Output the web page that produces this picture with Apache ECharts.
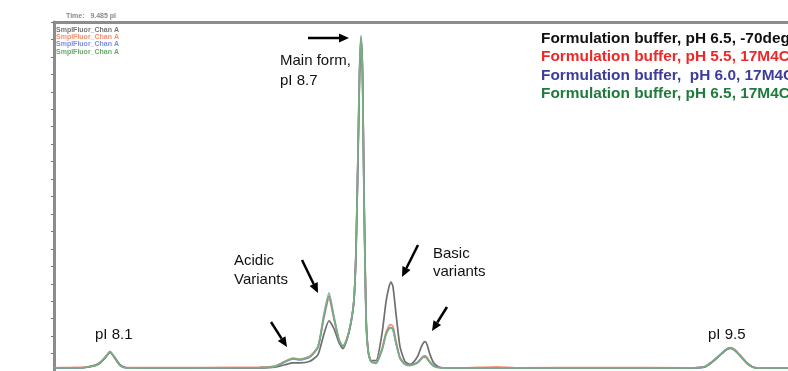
<!DOCTYPE html>
<html>
<head>
<meta charset="utf-8">
<script src="https://cdn.jsdelivr.net/npm/echarts@6/dist/echarts.min.js"></script>
<style>
html,body{margin:0;padding:0;background:#fff;}
#chart{width:788px;height:371px;}
</style>
</head>
<body>
<div id="chart"></div>
<script>
// x: separation time (arbitrary units)
const time = [0,1.6,3.1,4.1,4.6,5.1,5.6,6.1,6.6,7.1,8.6,14.6,20.6,22.1,23.1,23.9,24.6,25.6,26.4,27.0,27.5,28.0,28.5,28.9,29.3,29.7,30.0,30.2,30.4,30.55,30.7,30.85,31.0,31.2,31.4,31.7,32.2,32.8,33.2,33.5,33.7,33.9,34.2,34.6,35.1,35.6,36.0,36.4,36.7,36.9,37.1,37.3,37.6,38.0,38.6,40.6,44.3,46.6,54.6,63.6,65.1,65.8,66.6,67.2,67.6,68.0,68.6,69.4,70.1,71.6,73.4];

const sigBlack  = [0.9,0.9,1.0,1.5,2.3,3.7,5.3,3.8,1.8,1.0,0.9,0.9,0.9,1.1,1.8,2.3,2.3,2.8,4.7,10.7,14.4,12.1,8.1,6.4,9.0,13.8,20.3,33.8,60.5,83.5,94.7,86.4,51.8,16.8,6.3,3.0,3.0,10.7,19.8,24.1,25.5,24.1,16.4,7.0,2.7,1.9,2.7,4.4,6.7,7.9,8.4,7.6,4.7,2.2,1.0,0.9,0.9,0.9,0.9,0.9,1.2,2.5,4.5,6.0,6.5,6.1,4.4,1.9,0.9,0.9,0.9];
const sigOrange = [0.9,1.0,1.1,1.7,2.5,3.9,5.5,3.5,1.6,1.0,1.0,1.0,1.1,1.4,2.8,3.7,3.4,4.3,6.9,15.3,20.7,14.9,8.9,7.1,9.3,14.0,20.6,34.2,61.8,84.6,95.3,86.0,51.0,16.2,6.2,2.8,2.3,6.4,11.0,13.0,13.3,12.8,8.6,3.9,2.0,1.7,2.0,2.6,3.6,4.2,4.4,3.9,2.6,1.4,1.0,0.9,1.2,0.9,1.0,0.9,1.3,2.6,4.6,6.1,6.7,6.3,4.6,2.1,1.0,0.9,0.9];
const sigBlue   = [0.9,0.9,1.0,1.6,2.3,3.8,5.4,3.7,1.7,1.0,0.9,0.9,1.0,1.3,2.6,3.5,3.2,4.0,6.8,15.8,21.5,15.2,8.9,7.0,9.2,14.0,20.5,34.5,62.5,85.3,95.6,85.4,50.2,15.6,6.0,2.7,2.2,6.1,10.6,12.2,12.4,12.0,8.1,3.7,1.9,1.6,1.9,2.5,3.4,4.0,4.0,3.6,2.5,1.4,1.0,0.9,0.9,0.9,0.9,0.9,1.2,2.6,4.6,6.1,6.6,6.2,4.5,2.0,1.0,0.9,0.9];
const sigGreen  = [0.9,0.9,1.0,1.6,2.4,3.9,5.6,3.6,1.6,0.9,0.9,0.9,1.0,1.3,2.7,3.6,3.3,4.2,7.0,16.4,22.4,15.5,9.0,7.0,9.3,14.1,20.7,34.9,63.4,86.2,96.1,84.7,49.1,15.0,5.9,2.7,2.2,5.9,10.4,12.1,12.4,11.8,7.9,3.6,1.9,1.6,1.9,2.4,3.3,3.9,4.2,3.6,2.4,1.3,0.9,0.9,0.9,0.9,0.9,0.9,1.3,2.7,4.7,6.2,6.6,6.2,4.4,1.9,0.9,0.9,0.9];

const legendRight = [
  'Formulation buffer, pH 6.5, -70degC',
  'Formulation buffer, pH 5.5, 17M4C',
  'Formulation buffer,  pH 6.0, 17M4C',
  'Formulation buffer, pH 6.5, 17M4C'
];
const legendSmall = ['SmplFluor_Chan A','SmplFluor_Chan A','SmplFluor_Chan A','SmplFluor_Chan A'];

const lineColors = ['#5e5e5e','#f08a68','#6878c4','#78b47c'];
const rightColors = ['#111111','#ee2828','#3c3c9c','#1f7a3c'];
const smallColors = ['#444444','#f06a40','#5068d0','#3a8a3a'];
const signals = [sigBlack, sigOrange, sigBlue, sigGreen];

const chart = echarts.init(document.getElementById('chart'), null, {renderer:'canvas'});

function arrow(x1,y1,x2,y2){
  const a = Math.atan2(y2-y1,x2-x1);
  const L = 10, W = 4.5;
  const bx = x2 - L*Math.cos(a), by = y2 - L*Math.sin(a);
  const px = -Math.sin(a)*W, py = Math.cos(a)*W;
  return [
    {type:'line', shape:{x1:x1,y1:y1,x2:bx,y2:by}, style:{stroke:'#000',lineWidth:2.5}, z:10},
    {type:'polygon', shape:{points:[[x2,y2],[bx+px,by+py],[bx-px,by-py]]}, style:{fill:'#000'}, z:10}
  ];
}

const ann = (text,x,y,extra) => Object.assign({type:'text', x:x, y:y, z:10,
  style:{text:text, fontFamily:'Liberation Sans, Arial, sans-serif', fontSize:15, fill:'#111', textVerticalAlign:'middle'}}, extra||{});

const graphics = [];
legendRight.forEach((t,i)=>{
  graphics.push({type:'text', x:541, y:39+18.2*i, z:10,
    style:{text:t, fontFamily:'Liberation Sans, Arial, sans-serif', fontWeight:'bold', fontSize:15.4, fill:rightColors[i], textVerticalAlign:'middle'}});
});
legendSmall.forEach((t,i)=>{
  graphics.push({type:'text', x:56, y:30+7.2*i, z:10,
    style:{text:t, fontFamily:'Liberation Sans, Arial, sans-serif', fontWeight:'bold', fontSize:7, fill:smallColors[i], textVerticalAlign:'middle', opacity:0.75}});
});
graphics.push({type:'text', x:66, y:16, z:10,
  style:{text:'Time:   9.485 pI', fontFamily:'Liberation Sans, Arial, sans-serif', fontWeight:'bold', fontSize:7, fill:'#555', textVerticalAlign:'middle', opacity:0.7}});
graphics.push(ann('Main form,',280,61));
graphics.push(ann('pI 8.7',280,80.5));
graphics.push(ann('Acidic',234,261));
graphics.push(ann('Variants',234,280));
graphics.push(ann('Basic',433,254));
graphics.push(ann('variants',433,272));
graphics.push(ann('pI 8.1',95,335));
graphics.push(ann('pI 9.5',708,334.5));
[[308,38,349,38],[302,260,318,293],[271,322,287,347],[418,245,402,277],[447,307,432,331]].forEach(a=>{
  arrow(a[0],a[1],a[2],a[3]).forEach(g=>graphics.push(g));
});

const option = {
  animation:false,
  backgroundColor:'#fff',
  grid:{left:54, right:0, top:22, bottom:-2.2, containLabel:false},
  xAxis:[
    {type:'value', min:0, max:73.4, show:false},
    {type:'value', min:0, max:73.4, position:'top', axisLine:{show:true, onZero:false, lineStyle:{color:'#8c8c8c', width:3}}, axisTick:{show:false}, axisLabel:{show:false}, splitLine:{show:false}}
  ],
  yAxis:{type:'value', min:0, max:100, interval:5,
    axisLine:{show:true, lineStyle:{color:'#8c8c8c', width:3}},
    axisTick:{show:true, length:3, lineStyle:{color:'#777', width:1}},
    axisLabel:{show:false}, splitLine:{show:false}},
  series: signals.map((s,i)=>({
    type:'line', xAxisIndex:0, showSymbol:false, smooth:0.2,
    data: time.map((t,k)=>[t, s[k]]),
    lineStyle:{color:lineColors[i], width:1.7, opacity:0.9},
    z: 2+i
  })),
  graphic: graphics
};
chart.setOption(option);
</script>
</body>
</html>
